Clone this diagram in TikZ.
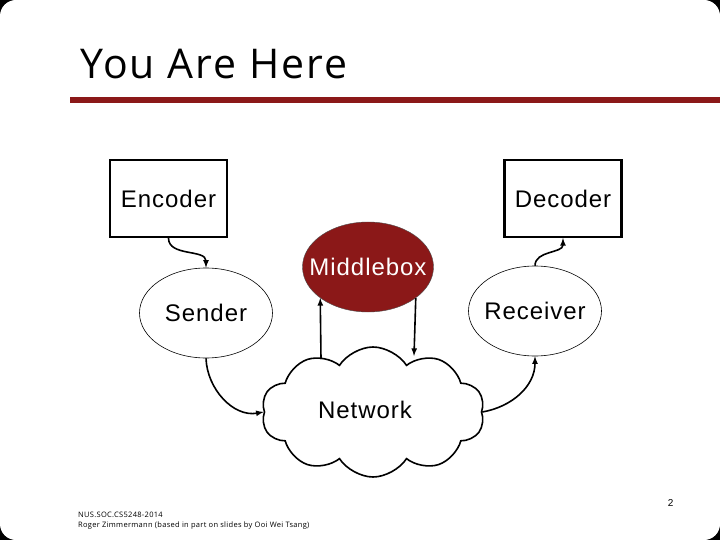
\documentclass[tikz,border=0pt]{standalone}
\usepackage{fontspec}
\setmainfont{Liberation Sans}[LetterSpace=4]
\newfontfamily\titlefont{Open Sans}
\usepackage{xcolor}
\usetikzlibrary{arrows,calc,positioning,shapes.geometric,shapes.symbols}
\definecolor{slidered}{RGB}{139,24,24}
\newcommand{\lblfont}{\fontsize{24bp}{28bp}\selectfont}
\newcommand{\wide}[1]{\makebox[0pt]{#1}}
\tikzset{%
	codec/.style   = {draw, rectangle, line width=2.2bp, minimum width=117bp, minimum height=77bp, text centered, font=\lblfont},
	host/.style    = {draw, ellipse, line width=0.6bp, inner sep=0pt, minimum width=133bp, minimum height=90bp, font=\lblfont},
	midbox/.style  = {draw=black!70, ellipse, fill=slidered, text=white, inner sep=0pt, minimum width=131bp, minimum height=90bp, font=\lblfont},
	netcloud/.style= {draw, cloud, cloud puffs=10, cloud puff arc=115, aspect=1.7, line width=1.6bp, minimum width=223bp, minimum height=130bp, inner sep=0pt},
	arrow/.style   = {line width=1.6bp,-latex},
}

\begin{document}
\begin{tikzpicture}[x=1bp,y=-1bp]
		\useasboundingbox (0,0) rectangle (720,540);
		% slide frame
		\fill[black] (0,0) rectangle (720,540);
		\fill[white,rounded corners=16bp] (0,0) rectangle (720,540);
		
		% title
		\node[anchor=base west,inner sep=0pt,font=\titlefont\addfontfeatures{LetterSpace=5}\fontsize{41bp}{45bp}\selectfont] (title) at (80,79) {You Are Here};
		\fill[slidered] (70,97) rectangle (720,103);
		
		% boxes and hosts
		\node[codec] (enc) at (168.5,198.5) {Encoder};
		\node[codec] (dec) at (563,198.5) {Decoder};
		\node[midbox] (mid) at (368,267) {\wide{Middlebox}};
		\node[host] (snd) at (206,313) {\wide{Sender}};
		\node[host] (rcv) at (535,311) {\wide{Receiver}};
		\node[netcloud] (net) at (373,412) {};
		\node[font=\lblfont] (netlbl) at (365,410) {Network};
		
		% connectors
		\draw[arrow] (enc.south) to[out=-90,in=90] (snd.north);
		\draw[arrow] (rcv.north) to[out=90,in=-90] (dec.south);
		\draw[arrow] (snd.south) to[out=-88,in=190] (net.west);
		\draw[arrow] (net.east) to[out=10,in=-90] (rcv.south);
		
		\coordinate (nl) at (321,359);
		\coordinate (nr) at (414,356);
		\draw[arrow] (nl) -- (mid.213);
		\draw[arrow] (mid.327) -- (nr);
		
		% footer
		\node[anchor=base east,font=\fontsize{10bp}{12bp}\selectfont] (page) at (677,506) {2};
		\node[anchor=north west,align=left,inner sep=0pt,font=\titlefont\addfontfeatures{LetterSpace=4}\fontsize{7.5bp}{10bp}\selectfont] (foot) at (78,512) {NUS.SOC.CS5248-2014\\Roger Zimmermann (based in part on slides by Ooi Wei Tsang)};
\end{tikzpicture}
\end{document}
